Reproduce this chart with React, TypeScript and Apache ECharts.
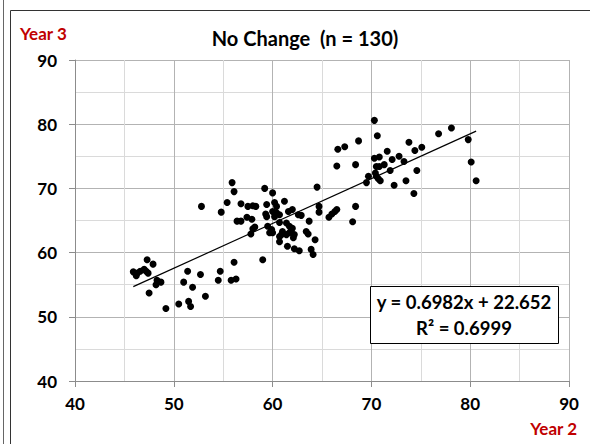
import React, { useEffect, useRef } from "react";
import * as echarts from "echarts";

// Year 2 (x) and Year 3 (y) scores
const year2: number[] = [
  45.9, 46.3, 46.2, 46.6, 47.3, 47.9, 47.0, 47.4, 47.2, 48.3,
  48.7, 48.2, 47.5, 49.2, 50.5, 51.5, 51.7, 51.4, 51.0, 51.9,
  52.7, 53.2, 54.7, 54.5, 55.8, 56.3, 56.1, 59.0, 52.8, 54.8,
  55.9, 56.1, 55.4, 56.8, 56.4, 56.8, 57.5, 58.0, 58.3, 57.4,
  57.9, 58.2, 58.0, 57.8, 59.2, 60.0, 59.4, 60.2, 61.2, 59.3,
  59.4, 60.0, 60.4, 60.2, 60.7, 61.6, 62.0, 62.6, 59.5, 59.9,
  59.7, 60.0, 60.7, 61.4, 61.7, 61.9, 62.0, 61.7, 61.4, 60.9,
  60.7, 62.2, 62.1, 60.7, 61.5, 62.2, 62.7, 63.4, 63.6, 63.7,
  63.9, 64.1, 64.3, 62.9, 64.5, 64.7, 64.7, 65.7, 66.0, 66.3,
  66.5, 68.1, 68.4, 70.3, 70.6, 66.6, 67.3, 68.7, 66.5, 68.4,
  70.3, 70.8, 70.5, 70.8, 71.3, 71.6, 72.1, 72.8, 73.3, 73.8,
  74.4, 75.1, 76.8, 78.1, 79.8, 80.1, 80.6, 71.9, 70.4, 70.5,
  69.7, 69.5, 70.7, 70.9, 72.3, 73.5, 74.6, 74.3, 60.4, 61.0,
];
const year3: number[] = [
  57.0, 56.8, 56.4, 57.1, 58.9, 58.2, 57.4, 56.8, 57.1, 55.7,
  55.4, 55.0, 53.7, 51.3, 52.0, 52.4, 51.6, 57.1, 55.4, 54.6,
  56.6, 53.2, 57.1, 55.7, 55.7, 55.9, 58.5, 58.9, 67.2, 66.3,
  70.9, 69.5, 67.8, 67.6, 64.9, 64.9, 67.2, 67.3, 67.2, 65.5,
  65.2, 64.0, 63.7, 62.9, 70.0, 69.3, 67.5, 67.8, 68.0, 66.0,
  65.6, 66.4, 66.2, 65.6, 65.9, 66.4, 66.7, 65.9, 64.1, 63.6,
  63.1, 63.1, 64.7, 64.6, 64.1, 63.6, 63.8, 63.1, 62.8, 62.8,
  62.5, 62.8, 62.3, 61.7, 61.0, 60.6, 60.3, 63.3, 62.9, 64.9,
  60.5, 59.7, 62.0, 65.8, 70.2, 67.2, 66.3, 65.5, 66.0, 66.4,
  66.7, 64.8, 67.2, 80.6, 78.2, 76.1, 76.5, 77.4, 73.5, 73.7,
  74.7, 74.9, 73.4, 73.4, 73.7, 75.8, 74.5, 75.0, 74.2, 77.2,
  75.9, 76.4, 78.5, 79.4, 77.6, 74.1, 71.2, 72.8, 72.4, 71.9,
  71.9, 70.9, 71.5, 71.2, 70.5, 71.2, 72.8, 69.2, 67.2, 63.3,
];

const trendSlope = 0.6982;
const trendIntercept = 22.652;
const chartTitle = "No Change  (n = 130)";
const xAxisName = "Year 2";
const yAxisName = "Year 3";
const equationText = "y = 0.6982x + 22.652";
const r2Text = "R² = 0.6999";
const axisMin = 40;
const axisMax = 90;
const axisStep = 10;

const FONT = "Lato, 'Open Sans', sans-serif";

export default function App() {
  const ref = useRef<HTMLDivElement>(null);

  useEffect(() => {
    if (!ref.current) return;
    const chart = echarts.init(ref.current, undefined, { renderer: "svg" });

    const points = year2.map((x, i) => [x, year3[i]]);
    const minX = Math.min(...year2);
    const maxX = Math.max(...year2);
    const trend = [
      [minX, trendSlope * minX + trendIntercept],
      [maxX, trendSlope * maxX + trendIntercept],
    ];

    const axisCommon = {
      type: "value" as const,
      min: axisMin,
      max: axisMax,
      interval: axisStep,
      axisLine: { show: true, lineStyle: { color: "#8c8c8c", width: 1 } },
      axisTick: { show: true, length: 6, lineStyle: { color: "#8c8c8c" } },
      splitLine: { show: true, lineStyle: { color: "#b3b3b3", width: 1 } },
      minorTick: { show: false, splitNumber: 2 },
      minorSplitLine: { show: true, lineStyle: { color: "#dadada", width: 1 } },
    };

    chart.setOption({
      animation: false,
      backgroundColor: "#ffffff",
      grid: { left: 75, top: 60, width: 494, height: 321, containLabel: false },
      xAxis: {
        ...axisCommon,
        axisLabel: {
          color: "#000",
          fontFamily: FONT,
          fontWeight: "bold",
          fontSize: 17,
          margin: 14,
        },
      },
      yAxis: {
        ...axisCommon,
        axisLabel: {
          color: "#000",
          fontFamily: FONT,
          fontWeight: "bold",
          fontSize: 17,
          margin: 18,
        },
      },
      series: [
        {
          type: "scatter",
          data: points,
          symbol: "circle",
          symbolSize: 7,
          itemStyle: { color: "#000", opacity: 1 },
          z: 3,
        },
        {
          type: "line",
          data: trend,
          symbol: "none",
          lineStyle: { color: "#000", width: 1.2 },
          z: 2,
        },
      ],
      graphic: [
        { type: "line", shape: { x1: 3.5, y1: 0, x2: 3.5, y2: 444 }, style: { stroke: "#666", lineWidth: 1 } },
        { type: "line", shape: { x1: 10.5, y1: 10.5, x2: 10.5, y2: 444 }, style: { stroke: "#333", lineWidth: 1 } },
        { type: "line", shape: { x1: 10.5, y1: 10.5, x2: 590, y2: 10.5 }, style: { stroke: "#333", lineWidth: 1 } },
        {
          type: "text",
          x: 305,
          y: 38,
          style: {
            text: chartTitle,
            fill: "#000",
            font: `bold 20px ${FONT}`,
            textAlign: "center",
            textVerticalAlign: "middle",
          },
        },
        {
          type: "text",
          x: 20,
          y: 33,
          style: {
            text: yAxisName,
            fill: "#c00000",
            font: `bold 17px ${FONT}`,
            textAlign: "left",
            textVerticalAlign: "middle",
          },
        },
        {
          type: "text",
          x: 577,
          y: 428,
          style: {
            text: xAxisName,
            fill: "#c00000",
            font: `bold 17px ${FONT}`,
            textAlign: "right",
            textVerticalAlign: "middle",
          },
        },
        {
          type: "rect",
          shape: { x: 370.5, y: 286.5, width: 188, height: 57 },
          style: { fill: "#fff", stroke: "#000", lineWidth: 1 },
          z: 10,
        },
        {
          type: "text",
          x: 464,
          y: 302,
          z: 11,
          style: {
            text: equationText,
            fill: "#000",
            font: `bold 18.5px ${FONT}`,
            textAlign: "center",
            textVerticalAlign: "middle",
          },
        },
        {
          type: "text",
          x: 464,
          y: 328,
          z: 11,
          style: {
            text: r2Text,
            fill: "#000",
            font: `bold 18.5px ${FONT}`,
            textAlign: "center",
            textVerticalAlign: "middle",
          },
        },
      ],
    });

    return () => chart.dispose();
  }, []);

  return (
    <div
      ref={ref}
      style={{ position: "fixed", left: 0, top: 0, width: 590, height: 444 }}
    />
  );
}
